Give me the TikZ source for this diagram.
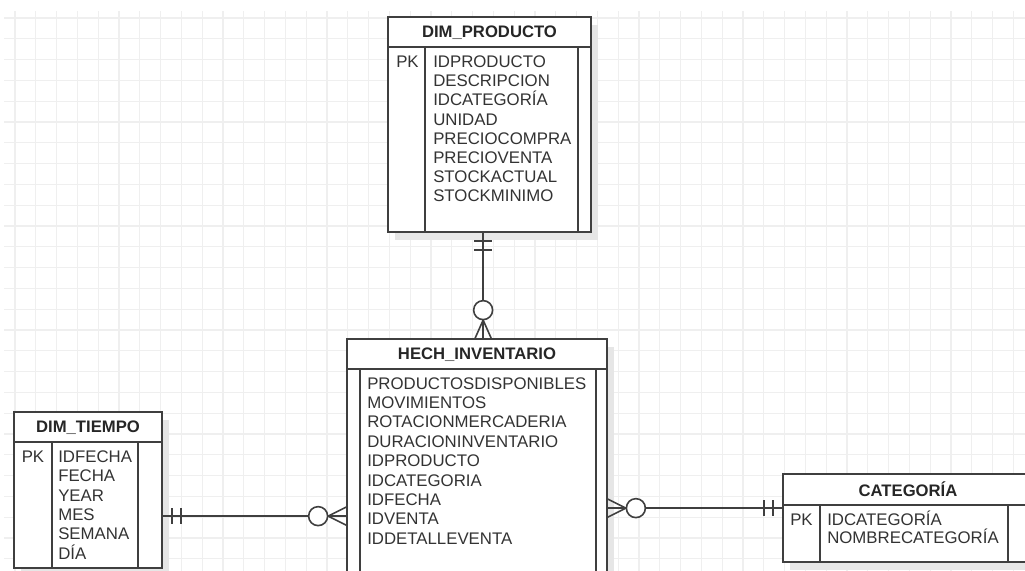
\documentclass[tikz,border=0pt]{standalone}
\usepackage{fontspec}
\setmainfont{Liberation Sans}
\usepackage{tikz}
\usetikzlibrary{calc,fit}
\definecolor{gridc}{HTML}{EFEFEF}
\definecolor{linec}{HTML}{3F3F3F}
\definecolor{shadowc}{HTML}{E6E6E6}
\definecolor{textc}{HTML}{333333}

\begin{document}
\begin{tikzpicture}[x=0.75pt,y=-0.75pt,
  tbl/.style={draw=linec,line width=1.3pt,fill=white,inner sep=0pt},
  tblline/.style={draw=linec,line width=1.3pt},
  rel/.style={draw=linec,line width=1.2pt},
  fld/.style={anchor=west,inner sep=0pt,text=textc,font=\fontsize{12.6}{14}\selectfont,text height=9pt,text depth=0pt},
  ttl/.style={inner sep=0pt,text=black!85,font=\fontsize{12.5}{14}\selectfont\bfseries,text height=9pt,text depth=0pt}]
\useasboundingbox (0,0) rectangle (1025,571);
\clip (0,0) rectangle (1025,571);
\fill[white] (0,0) rectangle (1025,571);
\foreach \k in {0,...,48}
  \draw[gridc,line width=1pt] ({15+20.8*\k},11) -- ({15+20.8*\k},571);
\foreach \k in {0,...,26}
  \draw[gridc,line width=1pt] (4,{18+20.8*\k}) -- (1025,{18+20.8*\k});

\fill[shadowc] (395,25) rectangle (598,240);
\node[tbl,fit={(388,17) (591,232)}] (prod) {};
\draw[tblline] (388,47) -- (591,47) (425,47) -- (425,232) (578,47) -- (578,232);
\node[ttl] (prodt) at (489.5,31) {DIM\_PRODUCTO};
\node[fld] (prodpk) at (396,61.5) {PK};
\foreach \f [count=\i from 0] in {IDPRODUCTO,DESCRIPCION,IDCATEGORÍA,UNIDAD,PRECIOCOMPRA,PRECIOVENTA,STOCKACTUAL,STOCKMINIMO}
  \node[fld] (prodf\i) at (433,{61.5+19.2*\i}) {\f};

\fill[shadowc] (354,347) rectangle (614,630);
\node[tbl,fit={(347,339) (607,620)}] (hech) {};
\draw[tblline] (347,369) -- (607,369) (360,369) -- (360,620) (596,369) -- (596,620);
\node[ttl] (hecht) at (477,353) {HECH\_INVENTARIO};
\foreach \f [count=\i from 0] in {PRODUCTOSDISPONIBLES,MOVIMIENTOS,ROTACIONMERCADERIA,DURACIONINVENTARIO,IDPRODUCTO,IDCATEGORIA,IDFECHA,IDVENTA,IDDETALLEVENTA}
  \node[fld] (hechf\i) at (367,{383+19.4*\i}) {\f};

\fill[shadowc] (21,420) rectangle (169,576);
\node[tbl,fit={(14,412) (162,568)}] (tiempo) {};
\draw[tblline] (14,442) -- (162,442) (52,442) -- (52,568) (138,442) -- (138,568);
\node[ttl] (tiempot) at (88,426) {DIM\_TIEMPO};
\node[fld] (tiempopk) at (21.5,456.5) {PK};
\foreach \f [count=\i from 0] in {IDFECHA,FECHA,YEAR,MES,SEMANA,DÍA}
  \node[fld] (tiempof\i) at (58,{456.5+19.3*\i}) {\f};

\fill[shadowc] (790,482) rectangle (1040,570);
\node[tbl,fit={(783,474) (1033,562)}] (cat) {};
\draw[tblline] (783,505) -- (1033,505) (820,505) -- (820,562) (1008,505) -- (1008,562);
\node[ttl] (catt) at (908,490) {CATEGORÍA};
\node[fld] (catpk) at (790,519) {PK};
\node[fld] (catf0) at (827,519) {IDCATEGORÍA};
\node[fld] (catf1) at (827,537.5) {NOMBRECATEGORÍA};

\coordinate (c1) at ($(prod.south west)+(96,0)$);
\coordinate (e1) at (c1 |- hech.north);
\draw[rel] (c1) -- (e1);
\draw[rel] ($(c1)+(-9,8)$) -- ++(18,0) ($(c1)+(-9,17)$) -- ++(18,0);
\draw[rel] ($(e1)+(-8,0)$) -- ($(e1)+(0,-18)$) -- ($(e1)+(8,0)$);
\draw[rel,fill=white] ($(e1)+(0,-28)$) circle[radius=9.5];

\coordinate (c2) at ($(tiempo.north east)+(0,105)$);
\coordinate (e2) at (c2 -| hech.west);
\draw[rel] (c2) -- (e2);
\draw[rel] ($(c2)+(9,-8)$) -- ++(0,16) ($(c2)+(18,-8)$) -- ++(0,16);
\draw[rel] ($(e2)+(0,-9)$) -- ($(e2)+(-18,0)$) -- ($(e2)+(0,9)$);
\draw[rel,fill=white] ($(e2)+(-28,0)$) circle[radius=9.5];

\coordinate (c3) at ($(cat.north west)+(0,35)$);
\coordinate (e3) at (c3 -| hech.east);
\draw[rel] (e3) -- (c3);
\draw[rel] ($(c3)+(-9,-8)$) -- ++(0,16) ($(c3)+(-18,-8)$) -- ++(0,16);
\draw[rel] ($(e3)+(0,-9)$) -- ($(e3)+(18,0)$) -- ($(e3)+(0,9)$);
\draw[rel,fill=white] ($(e3)+(28,0)$) circle[radius=9.5];
\end{tikzpicture}
\end{document}
